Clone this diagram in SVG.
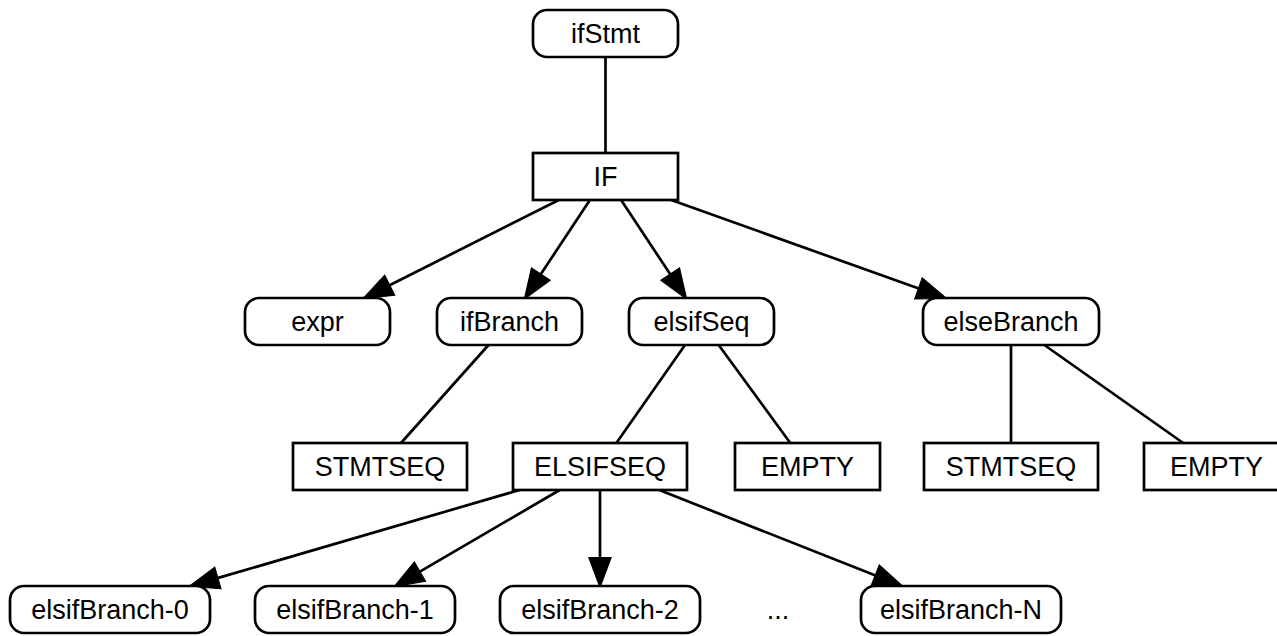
<svg xmlns="http://www.w3.org/2000/svg" width="1277" height="636" viewBox="0 0 1277 636">
  <style>
    .n { fill: #fff; stroke: #000; stroke-width: 2.7; }
    .t { font-family: "Liberation Sans", Arial, Helvetica, sans-serif; font-size: 27px; fill: #000; text-anchor: middle; }
    .e { stroke: #000; stroke-width: 2.7; fill: none; }
    .a { marker-end: url(#arrow); }
  </style>
  <defs>
    <marker id="arrow" markerUnits="userSpaceOnUse" markerWidth="30" markerHeight="24" refX="8" refY="10.5" orient="auto" viewBox="0 0 28 21" overflow="visible">
      <path d="M0,0 L28,10.5 L0,21 z" fill="#000" stroke="#000" stroke-width="1"/>
    </marker>
  </defs>
  <rect width="1277" height="636" fill="#fff"/>
  <g id="connectors">
    <line class="e" x1="605.5" y1="57" x2="605.5" y2="153"/>
    <line class="e a" x1="558.8" y1="200" x2="382.1" y2="289.0"/>
    <line class="e a" x1="589.9" y1="200" x2="536.1" y2="281.3"/>
    <line class="e a" x1="621.1" y1="200" x2="674.9" y2="281.3"/>
    <line class="e a" x1="671.2" y1="200" x2="926.5" y2="291.3"/>
    <line class="e" x1="488.5" y1="345" x2="401.0" y2="443"/>
    <line class="e" x1="685.0" y1="345" x2="616.4" y2="443"/>
    <line class="e" x1="718.7" y1="345" x2="790.3" y2="443"/>
    <line class="e" x1="1011" y1="345" x2="1011" y2="443"/>
    <line class="e" x1="1044.3" y1="345" x2="1183.2" y2="443"/>
    <line class="e a" x1="519.5" y1="490" x2="209.7" y2="580.4"/>
    <line class="e a" x1="559.7" y1="490" x2="412.6" y2="575.9"/>
    <line class="e a" x1="600" y1="490" x2="600" y2="566"/>
    <line class="e a" x1="659.3" y1="490" x2="883.1" y2="578.6"/>
  </g>
  <g id="ifStmt"><rect class="n" x="533" y="10" width="145" height="47" rx="14"/><text class="t" x="605.5" y="43">ifStmt</text></g>
  <g id="IF"><rect class="n" x="533" y="153" width="145" height="47"/><text class="t" x="605.5" y="186">IF</text></g>
  <g id="expr"><rect class="n" x="245" y="298" width="145" height="47" rx="14"/><text class="t" x="317.5" y="331">expr</text></g>
  <g id="ifBranch"><rect class="n" x="437" y="298" width="145" height="47" rx="14"/><text class="t" x="509.5" y="331">ifBranch</text></g>
  <g id="elsifSeq"><rect class="n" x="629" y="298" width="145" height="47" rx="14"/><text class="t" x="701.5" y="331">elsifSeq</text></g>
  <g id="elseBranch"><rect class="n" x="923" y="298" width="176" height="47" rx="14"/><text class="t" x="1011" y="331">elseBranch</text></g>
  <g id="STMTSEQ1"><rect class="n" x="293" y="443" width="174" height="47"/><text class="t" x="380" y="476">STMTSEQ</text></g>
  <g id="ELSIFSEQ"><rect class="n" x="513" y="443" width="174" height="47"/><text class="t" x="600" y="476">ELSIFSEQ</text></g>
  <g id="EMPTY1"><rect class="n" x="735" y="443" width="145" height="47"/><text class="t" x="807.5" y="476">EMPTY</text></g>
  <g id="STMTSEQ2"><rect class="n" x="924" y="443" width="174" height="47"/><text class="t" x="1011" y="476">STMTSEQ</text></g>
  <g id="EMPTY2"><rect class="n" x="1144" y="443" width="145" height="47"/><text class="t" x="1216.5" y="476">EMPTY</text></g>
  <g id="elsifBranch-0"><rect class="n" x="10" y="586" width="200" height="47" rx="14"/><text class="t" x="110" y="619">elsifBranch-0</text></g>
  <g id="elsifBranch-1"><rect class="n" x="255" y="586" width="200" height="47" rx="14"/><text class="t" x="355" y="619">elsifBranch-1</text></g>
  <g id="elsifBranch-2"><rect class="n" x="500" y="586" width="200" height="47" rx="14"/><text class="t" x="600" y="619">elsifBranch-2</text></g>
  <g id="ellipsis"><text class="t" x="778" y="619">...</text></g>
  <g id="elsifBranch-N"><rect class="n" x="861" y="586" width="200" height="47" rx="14"/><text class="t" x="961" y="619">elsifBranch-N</text></g>
</svg>
